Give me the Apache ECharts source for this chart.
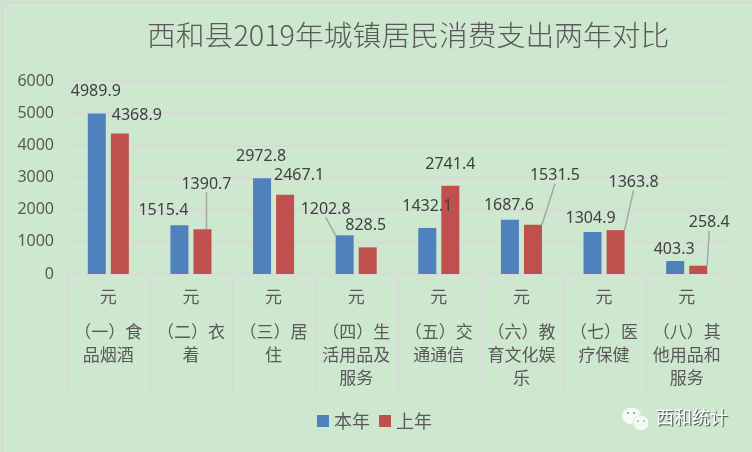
<!DOCTYPE html>
<html><head><meta charset="utf-8">
<style>html,body{margin:0;padding:0;background:#cde8cf}#c{width:752px;height:452px}</style>
<script src="https://cdn.jsdelivr.net/npm/echarts@6/dist/echarts.min.js"></script>
</head><body><div id="c"></div>
<script>
const unitLabel = '元';
const categories = ['（一）食\n品烟酒','（二）衣\n着','（三）居\n住','（四）生\n活用品及\n服务','（五）交\n通通信','（六）教\n育文化娱\n乐','（七）医\n疗保健','（八）其\n他用品和\n服务'];
const thisYear = [4989.9,1515.4,2972.8,1202.8,1432.1,1687.6,1304.9,403.3];
const lastYear = [4368.9,1390.7,2467.1,828.5,2741.4,1531.5,1363.8,258.4];
const yTicks = {min:0,max:6000,interval:1000};
const thisDx = [-1,-16,-1,-19,0,-1,-2,-1];
const thisDy = [-9,-2,-9,-13,-8,-1,-1,1];
const lastDx = [17,4,14,-2,0,22,18,11];
const lastDy = [-5,-32,-6,-9,-8,-36,-35,-30];
const thisLeader = [0,0,0,1,0,0,0,0];
const lastLeader = [0,1,0,0,0,1,1,1];

const font = '"Noto Sans","Noto Sans CJK SC",sans-serif';
const cjk = '"Noto Sans CJK SC",sans-serif';
const chart = echarts.init(document.getElementById('c'),null,{renderer:'canvas'});
function mk(name,vals,color,dx,dy,lead){
  return {name,type:'bar',barWidth:18,barGap:'28%',
    itemStyle:{color},
    data:vals.map((v,i)=>({value:v,labelLine:{show:!!lead[i]}})),
    label:{show:true,position:'top',distance:5,fontFamily:font,fontSize:16,color:'#404040',formatter:p=>p.value.toFixed(1)},
    labelLine:{show:true,lineStyle:{color:'#a6a6a6',width:1.5}},
    labelLayout:p=>({dx:dx[p.dataIndex],dy:dy[p.dataIndex]})
  };
}
chart.setOption({
  backgroundColor:'#cde8cf',animation:false,
  title:{text:'西和县2019年城镇居民消费支出两年对比',left:147,top:16,padding:0,textStyle:{fontFamily:cjk,fontWeight:300,fontSize:28.8,color:'#595959',lineHeight:38}},
  legend:{data:['本年','上年'],left:317,top:412,padding:0,itemWidth:12,itemHeight:12,itemGap:9,icon:'rect',textStyle:{fontFamily:cjk,fontSize:18,color:'#595959'}},
  grid:{left:67,right:24,top:81,bottom:178,containLabel:false},
  xAxis:{type:'category',data:categories,
    axisLine:{lineStyle:{color:'#d9d9d9',width:2}},
    axisTick:{show:true,length:120,lineStyle:{color:'#d9d9d9',width:2}},
    axisLabel:{interval:0,margin:0,fontFamily:cjk,fontSize:17,color:'#595959',
      formatter:v=>'{u|'+unitLabel+'}\n'+v.split('\n').map(s=>'{c|'+s+'}').join('\n'),
      rich:{u:{fontFamily:cjk,fontSize:17,color:'#595959',lineHeight:46,padding:[0,0,0,0]},c:{fontFamily:cjk,fontSize:17,color:'#595959',lineHeight:23}}}},
  yAxis:{type:'value',min:yTicks.min,max:yTicks.max,interval:yTicks.interval,
    axisLine:{show:false},axisTick:{show:false},
    axisLabel:{margin:13,fontFamily:font,fontSize:16,color:'#595959',formatter:v=>String(v)},
    splitLine:{lineStyle:{color:'#d9d9d9',width:2}}},
  series:[mk('本年',thisYear,'#4f81bd',thisDx,thisDy,thisLeader),mk('上年',lastYear,'#c0504d',lastDx,lastDy,lastLeader)],
  graphic:[
    {type:'rect',left:0,top:0,silent:true,z:100,shape:{x:0,y:0,width:751,height:451},style:{fill:'none',stroke:'#d9d9d9',lineWidth:3}},
    {type:'group',silent:true,z:101,children:[
      {type:'ellipse',shape:{cx:631.5,cy:416,rx:9.5,ry:8.5},style:{fill:'#f4faf5'}},
      {type:'ellipse',shape:{cx:641,cy:423,rx:8,ry:7.5},style:{fill:'#f4faf5',stroke:'#cde8cf',lineWidth:1}},
      {type:'circle',shape:{cx:628,cy:413,r:0.9},style:{fill:'#6a8a6f'}},
      {type:'circle',shape:{cx:634,cy:413,r:0.9},style:{fill:'#6a8a6f'}},
      {type:'circle',shape:{cx:638,cy:421,r:0.8},style:{fill:'#6a8a6f'}},
      {type:'circle',shape:{cx:644,cy:421,r:0.8},style:{fill:'#6a8a6f'}},
      {type:'text',x:656,y:408,style:{text:'西和统计',fontFamily:cjk,fontSize:18,fill:'#ffffff',textShadowColor:'#404040',textShadowBlur:1,textShadowOffsetX:1,textShadowOffsetY:1}}
    ]}
  ]
});
</script></body></html>
